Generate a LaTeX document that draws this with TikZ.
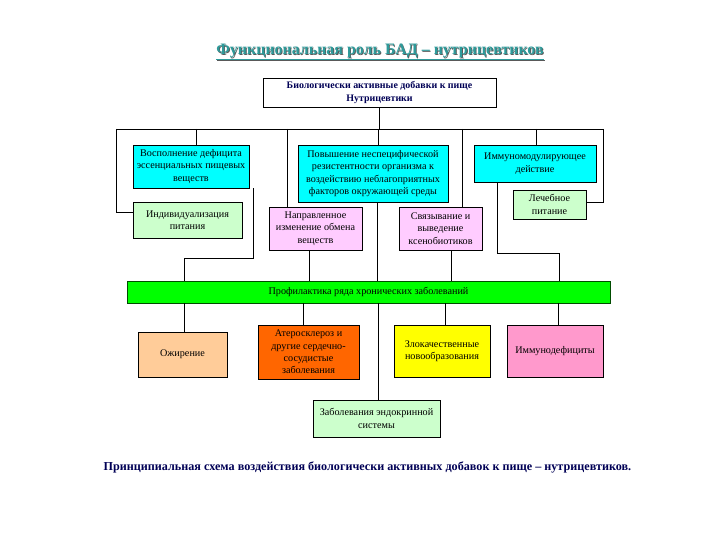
\documentclass[tikz,border=0pt]{standalone}
\usepackage{fontspec}
\setmainfont{Liberation Serif}
\definecolor{cyanbox}{HTML}{00FFFF}
\definecolor{lgreen}{HTML}{CCFFCC}
\definecolor{lpink}{HTML}{FFCCFF}
\definecolor{barg}{HTML}{00FF00}
\definecolor{peach}{HTML}{FFCC99}
\definecolor{orng}{HTML}{FF6600}
\definecolor{yell}{HTML}{FFFF00}
\definecolor{pinkb}{HTML}{FF99CC}
\definecolor{navy}{HTML}{000055}
\definecolor{teal}{HTML}{2E9A9A}
\tikzset{
  box/.style={draw=black, line width=0.9bp, align=center, inner sep=1bp,
    font=\fontsize{10.2}{12.5}\selectfont, text=black},
  conn/.style={line width=0.9bp, draw=black},
}
\begin{document}
\begin{tikzpicture}[x=1bp,y=-1bp]
\useasboundingbox (0,0) rectangle (720,540);
% title
\node[text=gray!70!black, font=\fontsize{16}{18}\selectfont\bfseries] at (380.8,52.8) {\underline{Функциональная роль БАД – нутрицевтиков}};
\node (title)[text=teal, font=\fontsize{16}{18}\selectfont\bfseries] at (380,52) {\underline{Функциональная роль БАД – нутрицевтиков}};
% boxes
\node (top)[box, fill=white, minimum width=233bp, minimum height=29bp, font=\fontsize{10}{12.5}\selectfont\bfseries, text=navy] at (379.5,92.5) {Биологически активные добавки к пище\\Нутрицевтики};
\node (b1)[box, fill=cyanbox, minimum width=116bp, minimum height=43bp] at (191,166.5) {Восполнение дефицита\\эссенциальных пищевых\\веществ};
\node (b2)[box, fill=lgreen, minimum width=109bp, minimum height=36bp] at (187.5,220) {Индивидуализация\\питания};
\node (b3)[box, fill=cyanbox, minimum width=150bp, minimum height=57bp] at (373,173.5) {Повышение неспецифической\\резистентности организма к\\воздействию неблагоприятных\\факторов окружающей среды};
\node (b4)[box, fill=lpink, minimum width=93bp, minimum height=43bp] at (315.5,228.5) {Направленное\\изменение обмена\\веществ};
\node (b5)[box, fill=lpink, minimum width=83bp, minimum height=43bp] at (440.5,228.5) {Связывание и\\выведение\\ксенобиотиков};
\node (b6)[box, fill=cyanbox, minimum width=122bp, minimum height=37bp] at (535,163.5) {Иммуномодулирующее\\действие};
\node (b7)[box, fill=lgreen, minimum width=73bp, minimum height=29bp] at (549.5,204.5) {Лечебное\\питание};
\node (bar)[box, fill=barg, draw=black!70!green, minimum width=483bp, minimum height=22bp] at (368.5,292) {Профилактика ряда хронических заболеваний};
\node (o1)[box, fill=peach, minimum width=89bp, minimum height=45bp] at (182.5,354.5) {Ожирение};
\node (o2)[box, fill=orng, minimum width=101bp, minimum height=54bp] at (308.5,352) {Атеросклероз и\\другие сердечно-\\сосудистые\\заболевания};
\node (o3)[box, fill=yell, minimum width=96bp, minimum height=52bp] at (442,351) {Злокачественные\\новообразования};
\node (o4)[box, fill=pinkb, minimum width=96bp, minimum height=52bp] at (555,351) {Иммунодефициты};
\node (o5)[box, fill=lgreen, minimum width=127bp, minimum height=37bp] at (376.5,418.5) {Заболевания эндокринной\\системы};
% caption
\node (cap)[text=navy, font=\fontsize{12.2}{14}\selectfont\bfseries] at (367.5,467) {Принципиальная схема воздействия биологически активных добавок к пище – нутрицевтиков.};
% bus coordinates
\coordinate (busL) at (116,129);
\coordinate (busR) at (603,129);
\coordinate (t1) at (196,129);
\coordinate (t4) at (287,129);
\coordinate (t3) at (378,129);
\coordinate (t5) at (462,129);
\coordinate (t6) at (536,129);
\coordinate (l2) at (116,212);
\coordinate (r7) at (603,202);
\coordinate (j1) at (253,258);
\coordinate (j2) at (184,258);
\coordinate (k1) at (497,253);
\coordinate (k2) at (559,253);
\coordinate (d3) at (377,0);
\coordinate (d4) at (309,0);
\coordinate (d5) at (451,0);
\coordinate (e1) at (184,0);
\coordinate (e2) at (303,0);
\coordinate (e5) at (378,0);
\coordinate (e3) at (445,0);
\coordinate (e4) at (558,0);
% connectors
\draw[conn] (top.south) -- (top.south |- busL);
\draw[conn] (busL) -- (busR);
\draw[conn] (t1) -- (t1 |- b1.north);
\draw[conn] (busL) -- (l2) -- (l2 -| b2.west);
\draw[conn] (t4) -- (t4 |- b4.north);
\draw[conn] (t3) -- (t3 |- b3.north);
\draw[conn] (t5) -- (t5 |- b5.north);
\draw[conn] (t6) -- (t6 |- b6.north);
\draw[conn] (busR) -- (r7) -- (r7 -| b7.east);
\draw[conn] (j1 |- b1.south) -- (j1) -- (j2) -- (j2 |- bar.north);
\draw[conn] (d3 |- b3.south) -- (d3 |- bar.north);
\draw[conn] (d4 |- b4.south) -- (d4 |- bar.north);
\draw[conn] (d5 |- b5.south) -- (d5 |- bar.north);
\draw[conn] (k1 |- b6.south) -- (k1) -- (k2) -- (k2 |- bar.north);
\draw[conn] (e1 |- bar.south) -- (e1 |- o1.north);
\draw[conn] (e2 |- bar.south) -- (e2 |- o2.north);
\draw[conn] (e5 |- bar.south) -- (e5 |- o5.north);
\draw[conn] (e3 |- bar.south) -- (e3 |- o3.north);
\draw[conn] (e4 |- bar.south) -- (e4 |- o4.north);
\end{tikzpicture}
\end{document}
